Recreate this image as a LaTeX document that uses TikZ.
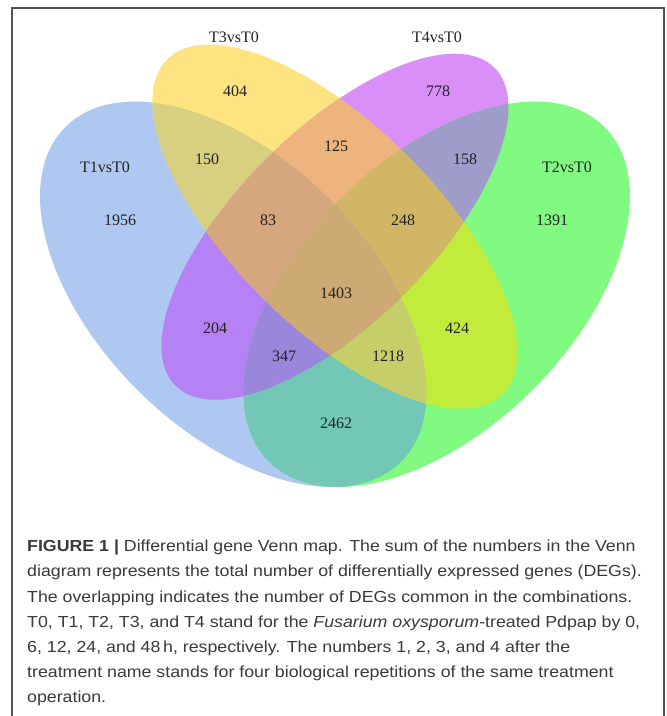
\documentclass[tikz,border=0pt]{standalone}
\usepackage{fontspec}
\setmainfont{Liberation Serif}
\newfontfamily\capfont[FakeStretch=1.11]{Liberation Sans}
\definecolor{cB}{HTML}{AEC8F2}
\definecolor{cY}{HTML}{FDE480}
\definecolor{cP}{HTML}{DA8FF8}
\definecolor{cG}{HTML}{80FA80}
\definecolor{cBY}{HTML}{D6D080}
\definecolor{cBP}{HTML}{B482F5}
\definecolor{cBG}{HTML}{72C7B7}
\definecolor{cYP}{HTML}{EDB57D}
\definecolor{cYG}{HTML}{C2EC3C}
\definecolor{cPG}{HTML}{9E9DC9}
\definecolor{cBYP}{HTML}{D6A77F}
\definecolor{cBYG}{HTML}{C6CE6A}
\definecolor{cBPG}{HTML}{9A86DA}
\definecolor{cYPG}{HTML}{D1B765}
\definecolor{cALL}{HTML}{CDAA74}
\definecolor{framegray}{HTML}{555555}
\definecolor{captext}{HTML}{3A3A3A}
\definecolor{venntext}{HTML}{222222}
\newcommand\shB{(0.35,0.47) ellipse (0.35 and 0.2)}
\newcommand\shY{(0.5,0.57) ellipse (0.35 and 0.15)}
\newcommand\shP{(0.5,0.57) ellipse (0.3325 and 0.1425)}
\newcommand\shG{(0.65,0.47) ellipse (0.35 and 0.2)}
\tikzset{
  eB/.style={rotate around={-45:(0.35,0.47)}},
  eY/.style={rotate around={-45:(0.5,0.57)}},
  eP/.style={rotate around={45:(0.5,0.57)}},
  eG/.style={rotate around={45:(0.65,0.47)}},
  vlabel/.style={inner sep=0pt, text=venntext, font=\fontsize{16}{16}\selectfont},
  capline/.style={anchor=base west, inner sep=0pt, text=captext, font=\capfont\fontsize{16}{20}\selectfont},
}
\begin{document}
\begin{tikzpicture}[x=1pt,y=1pt]
\useasboundingbox (0,0) rectangle (667,-716);
\fill[white] (0,0) rectangle (667,-716);
\begin{scope}[shift={(-4,-612)}, xscale=678, yscale=676]
  % single sets
  \fill[cB,eB] \shB;
  \fill[cY,eY] \shY;
  \fill[cP,eP] \shP;
  \fill[cG,eG] \shG;
  % pairs
  \begin{scope}\clip[eB] \shB; \fill[cBY,eY] \shY; \end{scope}
  \begin{scope}\clip[eB] \shB; \fill[cBP,eP] \shP; \end{scope}
  \begin{scope}\clip[eB] \shB; \fill[cBG,eG] \shG; \end{scope}
  \begin{scope}\clip[eY] \shY; \fill[cYP,eP] \shP; \end{scope}
  \begin{scope}\clip[eY] \shY; \fill[cYG,eG] \shG; \end{scope}
  \begin{scope}\clip[eP] \shP; \fill[cPG,eG] \shG; \end{scope}
  % triples
  \begin{scope}\clip[eB] \shB; \clip[eY] \shY; \fill[cBYP,eP] \shP; \end{scope}
  \begin{scope}\clip[eB] \shB; \clip[eY] \shY; \fill[cBYG,eG] \shG; \end{scope}
  \begin{scope}\clip[eB] \shB; \clip[eP] \shP; \fill[cBPG,eG] \shG; \end{scope}
  \begin{scope}\clip[eY] \shY; \clip[eP] \shP; \fill[cYPG,eG] \shG; \end{scope}
  % all four
  \begin{scope}\clip[eB] \shB; \clip[eY] \shY; \clip[eP] \shP; \fill[cALL,eG] \shG; \end{scope}
\end{scope}
% set names
\node[vlabel] (t3) at (234,-37) {T3vsT0};
\node[vlabel] (t4) at (437,-37) {T4vsT0};
\node[vlabel] (t1) at (105,-167) {T1vsT0};
\node[vlabel] (t2) at (567,-167) {T2vsT0};
% counts
\node[vlabel] (n404) at (235,-91) {404};
\node[vlabel] (n778) at (438,-91) {778};
\node[vlabel] (n150) at (207,-159) {150};
\node[vlabel] (n125) at (336,-146) {125};
\node[vlabel] (n158) at (465,-159) {158};
\node[vlabel] (n1956) at (120,-220) {1956};
\node[vlabel] (n83) at (268,-220) {83};
\node[vlabel] (n248) at (403,-220) {248};
\node[vlabel] (n1391) at (552,-220) {1391};
\node[vlabel] (n1403) at (336,-293) {1403};
\node[vlabel] (n204) at (215,-328) {204};
\node[vlabel] (n424) at (457,-328) {424};
\node[vlabel] (n347) at (284,-356) {347};
\node[vlabel] (n1218) at (388,-356) {1218};
\node[vlabel] (n2462) at (336,-423) {2462};
% frame (open at the bottom)
\draw[framegray, line width=1.3pt] (12,-716) -- (12,-8) -- (664,-8) -- (664,-716);
% caption
\node[capline] (c1) at (27,-551.7) {\textbf{FIGURE 1 |} Differential gene Venn map. The sum of the numbers in the Venn};
\node[capline] (c2) at (27,-576.9) {diagram represents the total number of differentially expressed genes (DEGs).};
\node[capline] (c3) at (27,-602.1) {The overlapping indicates the number of DEGs common in the combinations.};
\node[capline] (c4) at (27,-627.3) {T0, T1, T2, T3, and T4 stand for the \textit{Fusarium oxysporum}-treated Pdpap by 0,};
\node[capline] (c5) at (27,-652.5) {6, 12, 24, and 48\,h, respectively. The numbers 1, 2, 3, and 4 after the};
\node[capline] (c6) at (27,-677.7) {treatment name stands for four biological repetitions of the same treatment};
\node[capline] (c7) at (27,-702.9) {operation.};
\end{tikzpicture}
\end{document}
